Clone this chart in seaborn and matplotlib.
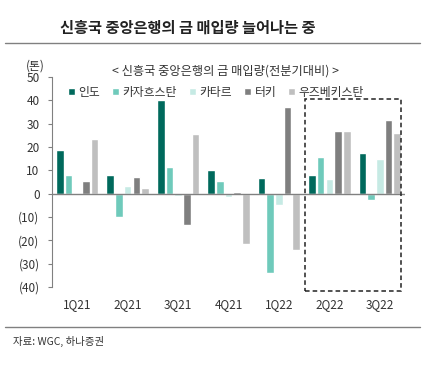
import pandas as pd
import seaborn as sns
import matplotlib.pyplot as plt
from matplotlib.lines import Line2D
from matplotlib.patches import Rectangle

# 데이터 (톤, 전분기대비)
quarters = ["1Q21", "2Q21", "3Q21", "4Q21", "1Q22", "2Q22", "3Q22"]
countries = ["인도", "카자흐스탄", "카타르", "터키", "우즈베키스탄"]
india = [18.6, 8.0, 40.0, 10.3, 6.7, 7.8, 17.5]
kazakhstan = [8.1, -9.8, 11.3, 5.5, -33.8, 15.9, -2.5]
qatar = [0.0, 3.2, -1.2, -1.5, -5.0, 6.1, 14.8]
turkey = [5.4, 7.0, -13.5, 0.7, 37.0, 26.8, 31.7]
uzbekistan = [23.4, 2.3, 25.6, -21.6, -24.2, 26.8, 26.0]
colors = ["#00695C", "#6FCABB", "#C6EAE4", "#7F7F7F", "#BFBFBF"]

rows = []
for name, vals in zip(countries, [india, kazakhstan, qatar, turkey, uzbekistan]):
    for q, v in zip(quarters, vals):
        rows.append({"quarter": q, "country": name, "value": v})
df = pd.DataFrame(rows)

sns.set_style("white")
plt.rcParams["font.family"] = ["Noto Sans CJK KR", "DejaVu Sans"]

fig = plt.figure(figsize=(4.37, 3.69), dpi=100)
ax = fig.add_axes([52 / 437, 1 - 287 / 369, 353 / 437, 210 / 369])

sns.barplot(data=df, x="quarter", y="value", hue="country", order=quarters,
            hue_order=countries, palette=colors, width=0.86, gap=0.12,
            saturation=1, ax=ax, legend=True)

ax.set_ylim(-40, 50)
ax.set_xlim(-0.5, 6.5)
ax.set_yticks(range(-40, 51, 10))
ax.set_yticklabels([f"({abs(t)})" if t < 0 else str(t) for t in range(-40, 51, 10)],
                   fontsize=8.5, color="#333333")
ax.tick_params(axis="x", length=0, labelsize=8.5, labelcolor="#333333", pad=8)
ax.tick_params(axis="y", length=3, color="#808080", direction="out", left=True, pad=6)
ax.set_xlabel("")
ax.set_ylabel("")
for s in ["top", "right", "bottom"]:
    ax.spines[s].set_visible(False)
ax.spines["left"].set_color("#808080")
ax.axhline(0, color="#808080", lw=1, zorder=3)

# 점선 박스
ax.add_patch(Rectangle((4.52, -41.5), 1.9, 82, fill=False, ls=(0, (3, 2)), lw=1.1,
                       ec="#222222", clip_on=False, zorder=4))

leg = ax.legend(loc="upper left", bbox_to_anchor=(62 / 437, 1 - 80 / 369),
                bbox_transform=fig.transFigure, ncol=5, frameon=False,
                fontsize=8.5, handlelength=0.6, handleheight=0.6,
                handletextpad=0.3, columnspacing=1.0, borderpad=0)
for t in leg.get_texts():
    t.set_color("#333333")

fig.text(60 / 437, 1 - 28 / 369, "신흥국 중앙은행의 금 매입량 늘어나는 중",
         fontsize=11, fontweight="bold", va="center", color="#222222")
fig.add_artist(Line2D([5 / 437, 420 / 437], [1 - 43 / 369] * 2, color="#808080", lw=1))
fig.text(226 / 437, 1 - 71 / 369, "< 신흥국 중앙은행의 금 매입량(전분기대비) >",
         fontsize=8.8, ha="center", va="center", color="#333333")
fig.text(35 / 437, 1 - 66 / 369, "(톤)", fontsize=8.5, ha="center", va="center",
         color="#333333")
fig.add_artist(Line2D([5 / 437, 420 / 437], [1 - 327 / 369] * 2, color="#808080", lw=1))
fig.text(13 / 437, 1 - 341 / 369, "자료: WGC, 하나증권", fontsize=7.5, va="center",
         color="#333333")

fig.savefig("out.png", dpi=100)
